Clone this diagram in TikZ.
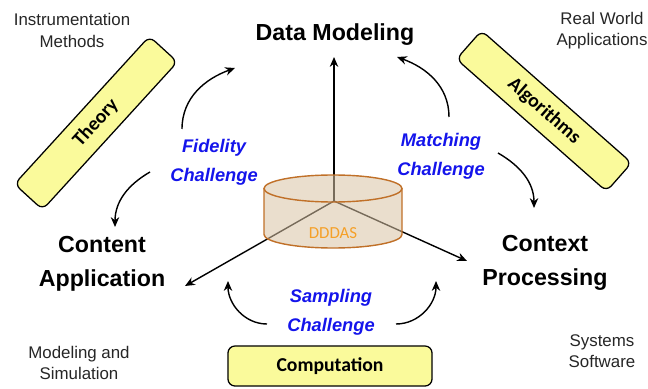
\documentclass[tikz,border=0pt]{standalone}
\usepackage{fontspec}
\setmainfont{Liberation Sans}
\newfontfamily\calibri{Carlito}
\usetikzlibrary{arrows.meta}
\definecolor{boxyellow}{RGB}{250,250,155}
\definecolor{drumfill}{RGB}{217,195,164}
\definecolor{drumline}{RGB}{192,112,40}
\definecolor{drumtext}{RGB}{245,160,40}
\definecolor{chalblue}{RGB}{20,20,235}
\tikzset{
  mainlabel/.style={align=center,font=\bfseries\fontsize{16.5}{24}\selectfont},
  sidenote/.style={align=center,text=black!85,font=\fontsize{12}{15}\selectfont},
  challenge/.style={align=center,text=chalblue,font=\bfseries\itshape\fontsize{13}{20.5}\selectfont},
  bar/.style={draw,rounded corners=5pt,fill=boxyellow,line width=0.9pt,inner sep=0pt,
    minimum width=5cm,minimum height=0.95cm,font=\calibri\bfseries\fontsize{14}{16}\selectfont},
  spoke/.style={-{Stealth[length=7pt,width=6pt]},line width=1pt},
  curlarrow/.style={-{Stealth[length=7pt,width=6pt]},line width=1pt}
}

\begin{document}
\begin{tikzpicture}[x=0.025cm,y=0.025cm]
  \useasboundingbox (0,0) rectangle (648,388);
  % corner notes
  \node[sidenote] (instr) at (72,357.5) {Instrumentation\\Methods};
  \node[sidenote] (realw) at (602,357) {Real World\\Applications};
  \node[sidenote] (modsim) at (79,25) {Modeling and\\Simulation};
  \node[sidenote] (syssw) at (602,36.5) {Systems\\Software};
  % yellow bars
  \node[bar, rotate=47.6] (theory) at (96,265) {Theory};
  \node[bar, rotate=-41.4] (algo) at (544,277) {Algorithms};
  \node[bar, minimum width=5.1cm, minimum height=1cm] (comp) at (330,22) {Computation};
  % main labels
  \node[mainlabel] (datamod) at (335,353) {Data Modeling};
  \node[mainlabel] (contapp) at (102,124) {Content\\Application};
  \node[mainlabel] (contproc) at (545,125.5) {Context\\Processing};
  % challenges
  \node[challenge] (fidel) at (214,225.5) {Fidelity\\Challenge};
  \node[challenge] (match) at (441,231.5) {Matching\\Challenge};
  \node[challenge] (sampl) at (331,75.5) {Sampling\\Challenge};
  % spokes from the hub
  \coordinate (hub) at (334,187);
  \coordinate (tipup) at (334,331);
  \coordinate (tipleft) at (185,102);
  \coordinate (tipright) at (467,127);
  \draw[spoke] (hub) -- (tipup);
  \draw[spoke] (hub) -- (tipleft);
  \draw[spoke] (hub) -- (tipright);
  % DDDAS drum
  \fill[drumfill, fill opacity=0.55] (264,199.5) -- (264,153.5)
    arc[start angle=180, end angle=360, x radius=69, y radius=13.5]
    -- (402,199.5) arc[start angle=0, end angle=180, x radius=69, y radius=13.5] -- cycle;
  \draw[drumline, line width=1pt] (264,199.5) -- (264,153.5)
    arc[start angle=180, end angle=360, x radius=69, y radius=13.5] -- (402,199.5);
  \draw[drumline, line width=1pt] (333,199.5) ellipse[x radius=69, y radius=13.5];
  \node[text=drumtext, font=\calibri\fontsize{12}{14}\selectfont] (dddas) at (333,155) {DDDAS};
  % curved arrows round the challenges
  \coordinate (f1) at (182,259);  \coordinate (f1e) at (235,320);
  \coordinate (f2) at (150,216);  \coordinate (f2e) at (115,161);
  \coordinate (m1) at (449,271);  \coordinate (m1e) at (397,331);
  \coordinate (m2) at (498,235);  \coordinate (m2e) at (534,180);
  \coordinate (s1) at (267,64);   \coordinate (s1e) at (228,107);
  \coordinate (s2) at (396,64);   \coordinate (s2e) at (436,107);
  \draw[curlarrow] (f1) to[out=90,in=200] (f1e);
  \draw[curlarrow] (f2) to[out=210,in=90] (f2e);
  \draw[curlarrow] (m1) to[out=90,in=-20] (m1e);
  \draw[curlarrow] (m2) to[out=-30,in=90] (m2e);
  \draw[curlarrow] (s1) to[out=180,in=-90] (s1e);
  \draw[curlarrow] (s2) to[out=0,in=-90] (s2e);
\end{tikzpicture}
\end{document}
